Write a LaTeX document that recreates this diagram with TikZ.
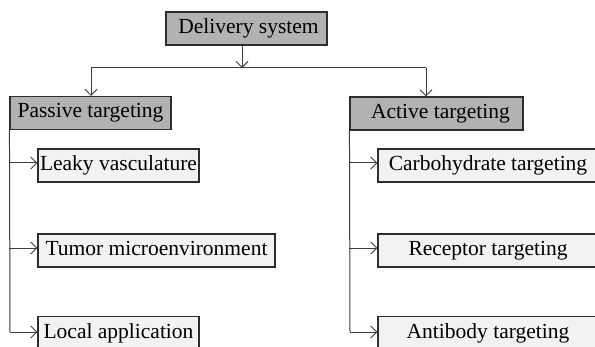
\documentclass[tikz,border=0pt]{standalone}
\usepackage{fontspec}
\setmainfont{Liberation Serif}
\usetikzlibrary{arrows.meta}
\definecolor{hdrfill}{RGB}{178,178,178}
\definecolor{kidfill}{RGB}{242,242,242}
\definecolor{edgecol}{RGB}{45,45,45}
\definecolor{linecol}{RGB}{60,60,60}
\begin{document}
\begin{tikzpicture}[x=1pt,y=1pt,
  box/.style={draw=edgecol, line width=1.1pt, inner sep=0pt, minimum height=33pt,
    font=\fontsize{21.5}{25}\selectfont, text height=14pt, text depth=4pt},
  hdr/.style={box, fill=hdrfill},
  kid/.style={box, fill=kidfill},
  conn/.style={draw=linecol, line width=1pt},
  arr/.style={conn, -{Straight Barb[length=6pt,width=12pt,line width=1pt]}}]
\useasboundingbox (0,0) rectangle (595,346);
\clip (0,0) rectangle (595,346);
\fill[white] (0,0) rectangle (595,346);
% headers
\node[hdr, minimum width=161pt] (del) at (246.5,317.5) {\hspace{4pt}Delivery system};
\node[hdr, minimum width=161pt] (pas) at (90.5,233) {Passive targeting};
\node[hdr, minimum width=173pt] (act) at (436.5,232.5) {\hspace{8pt}Active targeting};
% children
\node[kid, minimum width=161pt] (leak) at (118.5,180.5) {Leaky vasculature};
\node[kid, minimum width=237pt] (tum) at (156.5,95.5) {Tumor microenvironment};
\node[kid, minimum width=161pt] (loc) at (118.5,13) {Local application};
\node[kid, minimum width=220pt] (carb) at (488,180.5) {Carbohydrate targeting};
\node[kid, minimum width=220pt] (rec) at (488,95.5) {Receptor targeting};
\node[kid, minimum width=220pt] (anti) at (488,13) {Antibody targeting};
% top connectors
\coordinate (jn) at (242,278);
\coordinate (jl) at (91,278);
\coordinate (jr) at (426,278);
\draw[arr] (jn |- del.south) -- (jn);
\draw[conn] (jl) -- (jr);
\draw[arr] (jl) -- (jl |- pas.north);
\draw[arr] (jr) -- (jr |- act.north);
% left trunk
\coordinate (tl) at (pas.south west);
\coordinate (tlb) at (10,14);
\draw[conn] (tl) -- (tlb);
\draw[arr] (tl |- 0,183) -- (leak.west |- 0,183);
\draw[arr] (tl |- 0,98) -- (tum.west |- 0,98);
\draw[arr] (tlb) -- (loc.west |- tlb);
% right trunk
\coordinate (tr) at (act.south west);
\coordinate (trb) at (350,14);
\draw[conn] (tr) -- (trb);
\draw[arr] (tr |- 0,183) -- (carb.west |- 0,183);
\draw[arr] (tr |- 0,98) -- (rec.west |- 0,98);
\draw[arr] (trb) -- (anti.west |- trb);
\end{tikzpicture}
\end{document}
